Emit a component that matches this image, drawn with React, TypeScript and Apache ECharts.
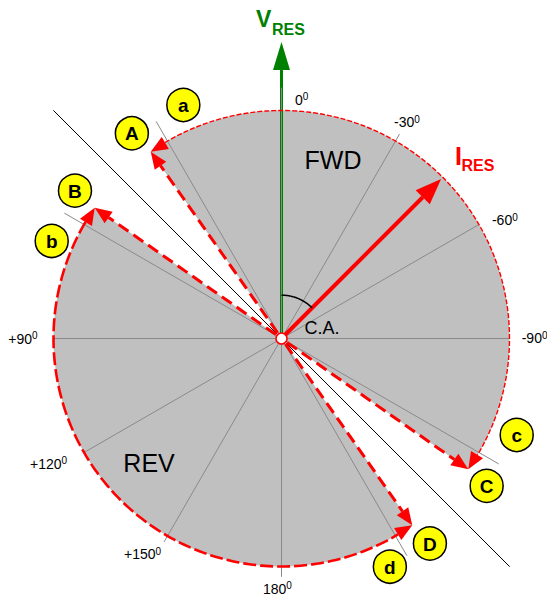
import React, { useEffect, useRef } from 'react';
import * as echarts from 'echarts';

// ---- data (angles in degrees, counter-clockwise positive, 0 = V_RES direction) ----
const fwdZone = [35, -125];
const revZone = [55, 215];
const iresAngle = -45;
const vresAngle = 0;
const boundaryAngle = 45;
const gridAngles = [0, -30, -60, -90, -120, -150, 180, 150, 120, 90, 60, 30];
const tickAngles = [0, -30, -60, -90, 90, 120, 150, 180];
const tickLabels = ['0', '-30', '-60', '-90', '+90', '+120', '+150', '180'];
const markerLetters = ['a', 'A', 'B', 'b', 'c', 'C', 'D', 'd'];
const markerAngles = [22.8, 36.1, 54.4, 67, -112.3, -125.7, -144.1, -154.6];

// ---- layout ----
const CX = 281.5;
const CY = 338.5;
const R = 228;
const gridReach = [1.1, 1.035, 1, 1, 1.1, 1.1, 1.045, 1.03, 1, 1, 1.1, 1.1];
const tickOffsets = [
  [13.5, -11], [-1.5, -19], [13, -4.5], [12.2, -0.5],
  [-45.2, 0], [-54, 11], [-43.5, 18.5], [-18.5, 22],
];
const markerRadius = [1.111, 1.114, 1.114, 1.095, 1.115, 1.108, 1.11, 1.108];
const FF = '"Liberation Sans", Arial, Helvetica, sans-serif';
const RED = '#ff0000';
const GREEN = '#008000';

const norm = (t: number) => ((t % 360) + 360) % 360;

function renderItem(_params: any, api: any) {
  const P = (r: number, t: number): number[] => api.coord([r, norm(t)]);
  const C = P(0, 0);
  const arc = (r: number, a0: number, a1: number) => {
    const n = Math.max(2, Math.ceil(Math.abs(a1 - a0)));
    const pts: number[][] = [];
    for (let i = 0; i <= n; i++) pts.push(P(r, a0 + ((a1 - a0) * i) / n));
    return pts;
  };
  const line = (points: number[][], style: any) => ({
    type: 'polyline',
    shape: { points },
    style: { fill: 'none', ...style },
  });
  const arrow = (tip: number[], from: number[], L: number, W: number, color: string) => {
    const dx = tip[0] - from[0];
    const dy = tip[1] - from[1];
    const len = Math.hypot(dx, dy) || 1;
    const ux = dx / len;
    const uy = dy / len;
    const bx = tip[0] - ux * L;
    const by = tip[1] - uy * L;
    return {
      type: 'polygon',
      shape: { points: [tip, [bx - uy * W, by + ux * W], [bx + uy * W, by - ux * W]] },
      style: { fill: color },
    };
  };
  const text = (x: number, y: number, t: string, s: any) => ({
    type: 'text',
    style: { x, y, text: t, fontFamily: FF, verticalAlign: 'middle', align: 'left', fill: '#000', ...s },
  });

  const children: any[] = [];

  // zones
  for (const z of [fwdZone, revZone]) {
    children.push({ type: 'polygon', shape: { points: [C, ...arc(1, z[0], z[1])] }, style: { fill: '#c0c0c0' } });
  }

  // V_RES
  const vL = 28;
  children.push(line([C, P(1.3 - vL / R, vresAngle)], { stroke: GREEN, lineWidth: 3 }));
  children.push(arrow(P(1.3, vresAngle), C, vL, 8.5, GREEN));

  // grid lines
  gridAngles.forEach((a, i) => {
    children.push(line([C, P(gridReach[i], a)], { stroke: '#8a8a8a', lineWidth: 1 }));
  });

  // boundary line
  children.push(line([P(1.415, boundaryAngle), P(1.415, boundaryAngle + 180)], { stroke: '#000', lineWidth: 1 }));

  // zone edges (radial dashed with arrows)
  const AL = 17;
  const AW = 7;
  for (const a of [fwdZone[0], fwdZone[1], revZone[0], revZone[1]]) {
    children.push(line([P(0.03, a), P(1 - AL / R, a)], { stroke: RED, lineWidth: 3, lineDash: [12, 6] }));
    children.push(arrow(P(1, a), C, AL, AW, RED));
  }
  const dA = ((AL / R) * 180) / Math.PI;
  // FWD arc (thin)
  children.push(line(arc(1, fwdZone[0] - dA, fwdZone[1] + dA), { stroke: RED, lineWidth: 1.4, lineDash: [5, 2] }));
  children.push(arrow(P(1, fwdZone[0]), P(1, fwdZone[0] - 8), AL, AW, RED));
  children.push(arrow(P(1, fwdZone[1]), P(1, fwdZone[1] + 8), AL, AW, RED));
  // REV arc (thick)
  children.push(line(arc(1, revZone[0] + dA, revZone[1] - dA), { stroke: RED, lineWidth: 2.6, lineDash: [13, 4] }));
  children.push(arrow(P(1, revZone[0]), P(1, revZone[0] + 8), AL, AW, RED));
  children.push(arrow(P(1, revZone[1]), P(1, revZone[1] - 8), AL, AW, RED));

  // I_RES
  const iL = 26;
  children.push(line([C, P(0.99 - iL / R, iresAngle)], { stroke: RED, lineWidth: 4 }));
  children.push(arrow(P(0.99, iresAngle), C, iL, 10, RED));

  // C.A. arc
  children.push(line(arc(0.19, vresAngle, iresAngle), { stroke: '#000', lineWidth: 1.5 }));

  // center
  children.push({ type: 'circle', shape: { cx: C[0], cy: C[1], r: 5.5 }, style: { fill: '#fff', stroke: RED, lineWidth: 1.5 } });

  // tick labels
  tickAngles.forEach((a, i) => {
    const p = P(1, a);
    children.push({
      type: 'text',
      style: {
        x: p[0] + tickOffsets[i][0],
        y: p[1] + tickOffsets[i][1],
        text: `{n|${tickLabels[i]}}{s|0}`,
        align: 'left',
        verticalAlign: 'middle',
        rich: {
          n: { fontSize: 14, fontFamily: FF, fill: '#000', lineHeight: 16 },
          s: { fontSize: 10, fontFamily: FF, fill: '#000', lineHeight: 9, verticalAlign: 'top' },
        },
      },
    });
  });

  // V_RES label
  const vp = P(1.3, vresAngle);
  children.push(text(vp[0] - 25.5, vp[1] - 23.5, 'V', { fontSize: 23, fontWeight: 'bold', fill: GREEN }));
  children.push(text(vp[0] - 9.5, vp[1] - 13, 'RES', { fontSize: 16, fontWeight: 'bold', fill: GREEN }));
  // I_RES label
  const ip = P(1, iresAngle);
  children.push(text(ip[0] + 12.3, ip[1] - 21.3, 'I', { fontSize: 25, fontWeight: 'bold', fill: RED }));
  children.push(text(ip[0] + 18.8, ip[1] - 11.3, 'RES', { fontSize: 16, fontWeight: 'bold', fill: RED }));

  // zone names
  const fp = P(0.815, -16.1);
  children.push(text(fp[0], fp[1], 'FWD', { fontSize: 25, align: 'center' }));
  const rp = P(0.797, 133.2);
  children.push(text(rp[0], rp[1], 'REV', { fontSize: 25, align: 'center' }));
  const cp = P(0.184, -74.8);
  children.push(text(cp[0], cp[1], 'C.A.', { fontSize: 18, align: 'center' }));

  // markers
  markerLetters.forEach((m, i) => {
    const p = P(markerRadius[i], markerAngles[i]);
    children.push({ type: 'circle', shape: { cx: p[0], cy: p[1], r: 16.5 }, style: { fill: '#ffff00', stroke: '#000', lineWidth: 1.5 } });
    children.push(text(p[0], p[1] + 0.5, m, { fontSize: 19, fontWeight: 'bold', align: 'center' }));
  });

  return { type: 'group', children };
}

const option = {
  animation: false,
  polar: { center: [CX, CY], radius: R },
  angleAxis: {
    type: 'value', min: 0, max: 360, startAngle: 90, clockwise: false,
    axisLine: { show: false }, axisTick: { show: false }, axisLabel: { show: false }, splitLine: { show: false },
  },
  radiusAxis: {
    type: 'value', min: 0, max: 1,
    axisLine: { show: false }, axisTick: { show: false }, axisLabel: { show: false }, splitLine: { show: false },
  },
  series: [
    { type: 'custom', coordinateSystem: 'polar', data: [[0, 0]], renderItem, silent: true, clip: false },
  ],
};

export default function App() {
  const ref = useRef<HTMLDivElement>(null);
  useEffect(() => {
    const chart = echarts.init(ref.current!, null, { renderer: 'svg' });
    chart.setOption(option as any);
    return () => chart.dispose();
  }, []);
  return (
    <div
      ref={ref}
      style={{ position: 'fixed', left: 0, top: 0, width: 547, height: 598, background: '#fff' }}
    />
  );
}
